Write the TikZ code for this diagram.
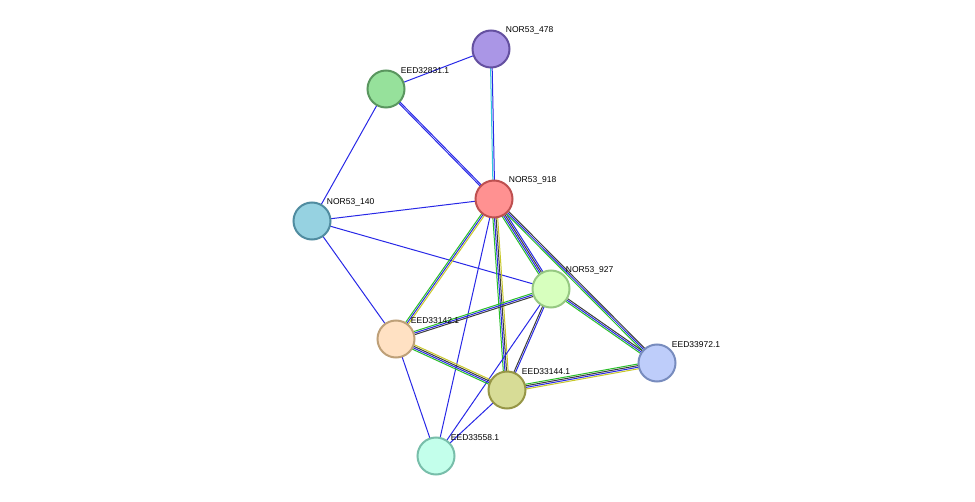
\documentclass[tikz,border=0pt]{standalone}
\usepackage{fontspec}
\setmainfont{Liberation Sans}
\usetikzlibrary{calc}
\tikzset{
  prot/.style={circle, minimum size=37pt, inner sep=0pt, line width=2pt},
  lbl/.style={font=\fontsize{8.5pt}{10pt}\selectfont, anchor=south west, inner sep=1pt},
  lnk/.style={line width=1pt}
}
% multi-coloured link: \mlink{from}{to}{colour list}
\newcommand\mlink[3]{%
  \foreach \c [count=\i] in {#3} {\xdef\nlinks{\i}}%
  \foreach \c [count=\i] in {#3} {%
    \pgfmathsetmacro\off{(\i-(\nlinks+1)/2)*1.6}%
    \draw[lnk, \c] ($(#1)!\off pt!90:(#2)$) -- ($(#2)!\off pt!-90:(#1)$);
  }}
\definecolor{cnb}{RGB}{40,40,230}
\definecolor{cng}{RGB}{40,190,40}
\definecolor{cny}{RGB}{200,200,40}
\definecolor{cnk}{RGB}{60,60,60}
\definecolor{cnc}{RGB}{50,200,220}
\begin{document}
\begin{tikzpicture}[x=1pt,y=-1pt]
\useasboundingbox (0,0) rectangle (975,502);
% node centres
\coordinate (p478) at (491,49);
\coordinate (p831) at (386,89);
\coordinate (p918) at (494,199);
\coordinate (p140) at (312,221);
\coordinate (p927) at (551,289);
\coordinate (p142) at (396,339);
\coordinate (p972) at (657,363);
\coordinate (p144) at (507,390);
\coordinate (p558) at (436,456);

% links
\mlink{p478}{p831}{cnb}
\mlink{p478}{p918}{cnc,cnb}
\mlink{p831}{p918}{cnb,cnb}
\mlink{p831}{p140}{cnb}
\mlink{p140}{p918}{cnb}
\mlink{p140}{p927}{cnb}
\mlink{p140}{p142}{cnb}
\mlink{p918}{p927}{cng,cnb,cnk,cnb}
\mlink{p918}{p972}{cng,cnb,cnk}
\mlink{p918}{p142}{cng,cnb,cny}
\mlink{p918}{p144}{cng,cnb,cnk,cny}
\mlink{p918}{p558}{cnb}
\mlink{p927}{p142}{cng,cnb,cnk}
\mlink{p927}{p144}{cnk,cnb}
\mlink{p927}{p972}{cng,cnb,cnk}
\mlink{p927}{p558}{cnb}
\mlink{p142}{p144}{cng,cnb,cnk,cny}
\mlink{p142}{p558}{cnb}
\mlink{p144}{p972}{cny,cnb,cnk,cng}
\mlink{p144}{p558}{cnb}

% proteins
\node[prot, fill={rgb,255:red,170;green,150;blue,230}, draw={rgb,255:red,100;green,80;blue,160}] (n478) at (p478) {};
\node[prot, fill={rgb,255:red,150;green,225;blue,155}, draw={rgb,255:red,90;green,150;blue,95}] (n831) at (p831) {};
\node[prot, fill={rgb,255:red,255;green,145;blue,145}, draw={rgb,255:red,190;green,80;blue,80}] (n918) at (p918) {};
\node[prot, fill={rgb,255:red,150;green,210;blue,225}, draw={rgb,255:red,80;green,140;blue,160}] (n140) at (p140) {};
\node[prot, fill={rgb,255:red,215;green,255;blue,190}, draw={rgb,255:red,150;green,200;blue,130}] (n927) at (p927) {};
\node[prot, fill={rgb,255:red,255;green,225;blue,195}, draw={rgb,255:red,190;green,160;blue,120}] (n142) at (p142) {};
\node[prot, fill={rgb,255:red,190;green,205;blue,250}, draw={rgb,255:red,120;green,140;blue,190}] (n972) at (p972) {};
\node[prot, fill={rgb,255:red,215;green,220;blue,150}, draw={rgb,255:red,150;green,150;blue,70}] (n144) at (p144) {};
\node[prot, fill={rgb,255:red,195;green,255;blue,235}, draw={rgb,255:red,120;green,190;blue,170}] (n558) at (p558) {};

% labels
\node[lbl] at ([xshift=0pt,yshift=0pt]n478.north east) {NOR53\_478};
\node[lbl] at ([xshift=0pt]n831.north east) {EED32831.1};
\node[lbl] at (n918.north east) {NOR53\_918};
\node[lbl] at (n140.north east) {NOR53\_140};
\node[lbl] at (n927.north east) {NOR53\_927};
\node[lbl] at (n142.north east) {EED33142.1};
\node[lbl] at (n972.north east) {EED33972.1};
\node[lbl] at (n144.north east) {EED33144.1};
\node[lbl] at (n558.north east) {EED33558.1};
\end{tikzpicture}
\end{document}
